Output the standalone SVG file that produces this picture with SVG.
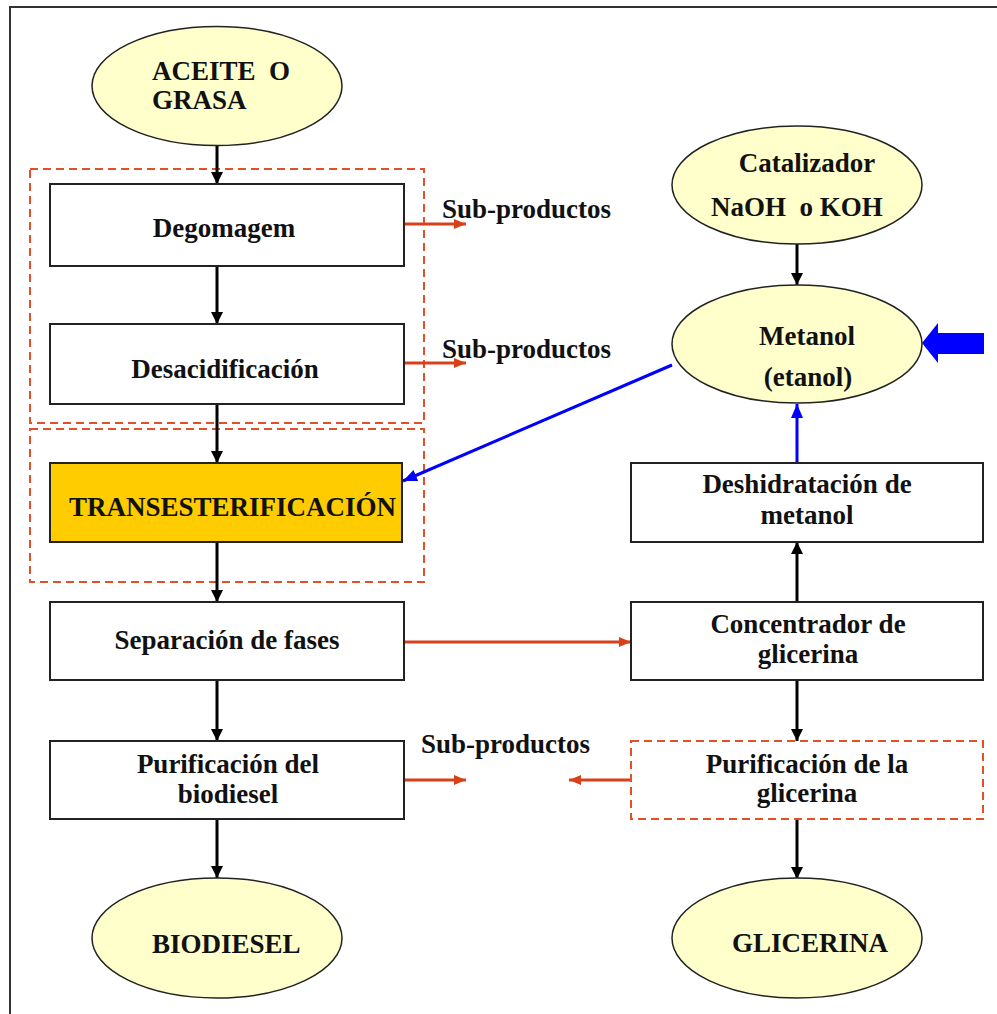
<svg xmlns="http://www.w3.org/2000/svg" width="997" height="1014" viewBox="0 0 997 1014">
<defs>
<style>
text{font-family:"Liberation Serif","Times New Roman",serif;font-weight:bold;font-size:27px;fill:#111}
.c{text-anchor:middle}
.pre{white-space:pre}
.box{fill:#fff;stroke:#222;stroke-width:2}
.ell{fill:#FFFFCC;stroke:#222;stroke-width:1.5}
.grp{fill:none;stroke:#E2502A;stroke-width:2;stroke-dasharray:8,5}
.bk{stroke:#000;stroke-width:3;fill:none}
.or{stroke:#D8401A;stroke-width:3;fill:none}
.bl{stroke:#0000FF;stroke-width:3;fill:none}
</style>
<marker id="ab" markerUnits="userSpaceOnUse" markerWidth="14" markerHeight="14" refX="12" refY="6" orient="auto"><path d="M0,0 L12,6 L0,12 z" fill="#000"/></marker>
<marker id="ao" markerUnits="userSpaceOnUse" markerWidth="14" markerHeight="14" refX="12" refY="5" orient="auto"><path d="M0,0 L12,5 L0,10 z" fill="#D8401A"/></marker>
<marker id="abl" markerUnits="userSpaceOnUse" markerWidth="16" markerHeight="14" refX="14" refY="6" orient="auto"><path d="M0,0 L14,6 L0,12 z" fill="#0000FF"/></marker>
</defs>
<rect width="997" height="1014" fill="#fff"/>
<path d="M10,1014 L10,7 L997,7" fill="none" stroke="#333" stroke-width="2"/>

<g id="groups">
<rect class="grp" x="30" y="169" width="394" height="254"/>
<rect class="grp" x="30" y="429" width="394" height="153"/>
</g>

<g id="connectors">
<line class="bk" x1="217" y1="146" x2="217" y2="184" marker-end="url(#ab)"/>
<line class="bk" x1="217" y1="266" x2="217" y2="324" marker-end="url(#ab)"/>
<line class="bk" x1="217" y1="404" x2="217" y2="463" marker-end="url(#ab)"/>
<line class="bk" x1="217" y1="542" x2="217" y2="602" marker-end="url(#ab)"/>
<line class="bk" x1="217" y1="680" x2="217" y2="741" marker-end="url(#ab)"/>
<line class="bk" x1="217" y1="819" x2="217" y2="878" marker-end="url(#ab)"/>
<line class="bk" x1="797" y1="244" x2="797" y2="285" marker-end="url(#ab)"/>
<line class="bk" x1="797" y1="602" x2="797" y2="542" marker-end="url(#ab)"/>
<line class="bk" x1="797" y1="680" x2="797" y2="741" marker-end="url(#ab)"/>
<line class="bk" x1="797" y1="819" x2="797" y2="879" marker-end="url(#ab)"/>
<line class="or" x1="404" y1="224" x2="466" y2="224" marker-end="url(#ao)"/>
<line class="or" x1="404" y1="363" x2="466" y2="363" marker-end="url(#ao)"/>
<line class="or" x1="404" y1="642" x2="631" y2="642" marker-end="url(#ao)"/>
<line class="or" x1="404" y1="780" x2="466" y2="780" marker-end="url(#ao)"/>
<line class="or" x1="631" y1="780" x2="569" y2="780" marker-end="url(#ao)"/>
<line class="bl" x1="672" y1="365" x2="403" y2="481" marker-end="url(#abl)"/>
<line class="bl" x1="797" y1="463" x2="797" y2="404" marker-end="url(#abl)"/>
<path d="M922,343 L938,323 L938,333 L984,333 L984,354 L938,354 L938,363 z" fill="#0000FF"/>
</g>

<g id="n-aceite"><ellipse class="ell" cx="217" cy="86" rx="125" ry="59.5"/><text class="pre" x="152" y="80" xml:space="preserve">ACEITE  O</text><text x="152" y="109">GRASA</text></g>
<g id="n-degomagem"><rect class="box" x="50" y="184" width="354" height="82"/><text class="c" x="224" y="237">Degomagem</text></g>
<g id="n-desacid"><rect class="box" x="50" y="324" width="354" height="80"/><text class="c" x="225" y="378">Desacidificación</text></g>
<g id="n-trans"><rect x="50" y="463" width="352" height="79" fill="#FFCC00" stroke="#222" stroke-width="2"/><text x="69" y="516">TRANSESTERIFICACIÓN</text></g>
<g id="n-separacion"><rect class="box" x="50" y="602" width="354" height="78"/><text class="c" x="227" y="649">Separación de fases</text></g>
<g id="n-purbio"><rect class="box" x="50" y="741" width="354" height="78"/><text class="c" x="228" y="773">Purificación del</text><text class="c" x="228" y="803">biodiesel</text></g>
<g id="n-biodiesel"><ellipse class="ell" cx="217" cy="938" rx="125" ry="60"/><text x="152" y="953">BIODIESEL</text></g>

<g id="n-catal"><ellipse class="ell" cx="797" cy="185" rx="125" ry="59"/><text class="c" x="807" y="172">Catalizador</text><text class="pre" x="711" y="216" xml:space="preserve">NaOH  o KOH</text></g>
<g id="n-metanol"><ellipse class="ell" cx="797" cy="344" rx="125" ry="59"/><text class="c" x="807" y="345">Metanol</text><text class="c" x="808" y="386">(etanol)</text></g>
<g id="n-deshid"><rect class="box" x="631" y="463" width="352" height="79"/><text class="c" x="807" y="493">Deshidratación de</text><text class="c" x="807" y="524">metanol</text></g>
<g id="n-concent"><rect class="box" x="631" y="602" width="352" height="78"/><text class="c" x="808" y="633">Concentrador de</text><text class="c" x="808" y="663">glicerina</text></g>
<g id="n-purgli"><rect class="grp" x="631" y="741" width="352" height="78"/><text class="c" x="807" y="773">Purificación de la</text><text class="c" x="807" y="802">glicerina</text></g>
<g id="n-glicerina"><ellipse class="ell" cx="797" cy="938" rx="125" ry="60"/><text x="732" y="952">GLICERINA</text></g>

<g id="labels">
<text x="442" y="218">Sub-productos</text>
<text x="442" y="358">Sub-productos</text>
<text x="421" y="753">Sub-productos</text>
</g>
</svg>
